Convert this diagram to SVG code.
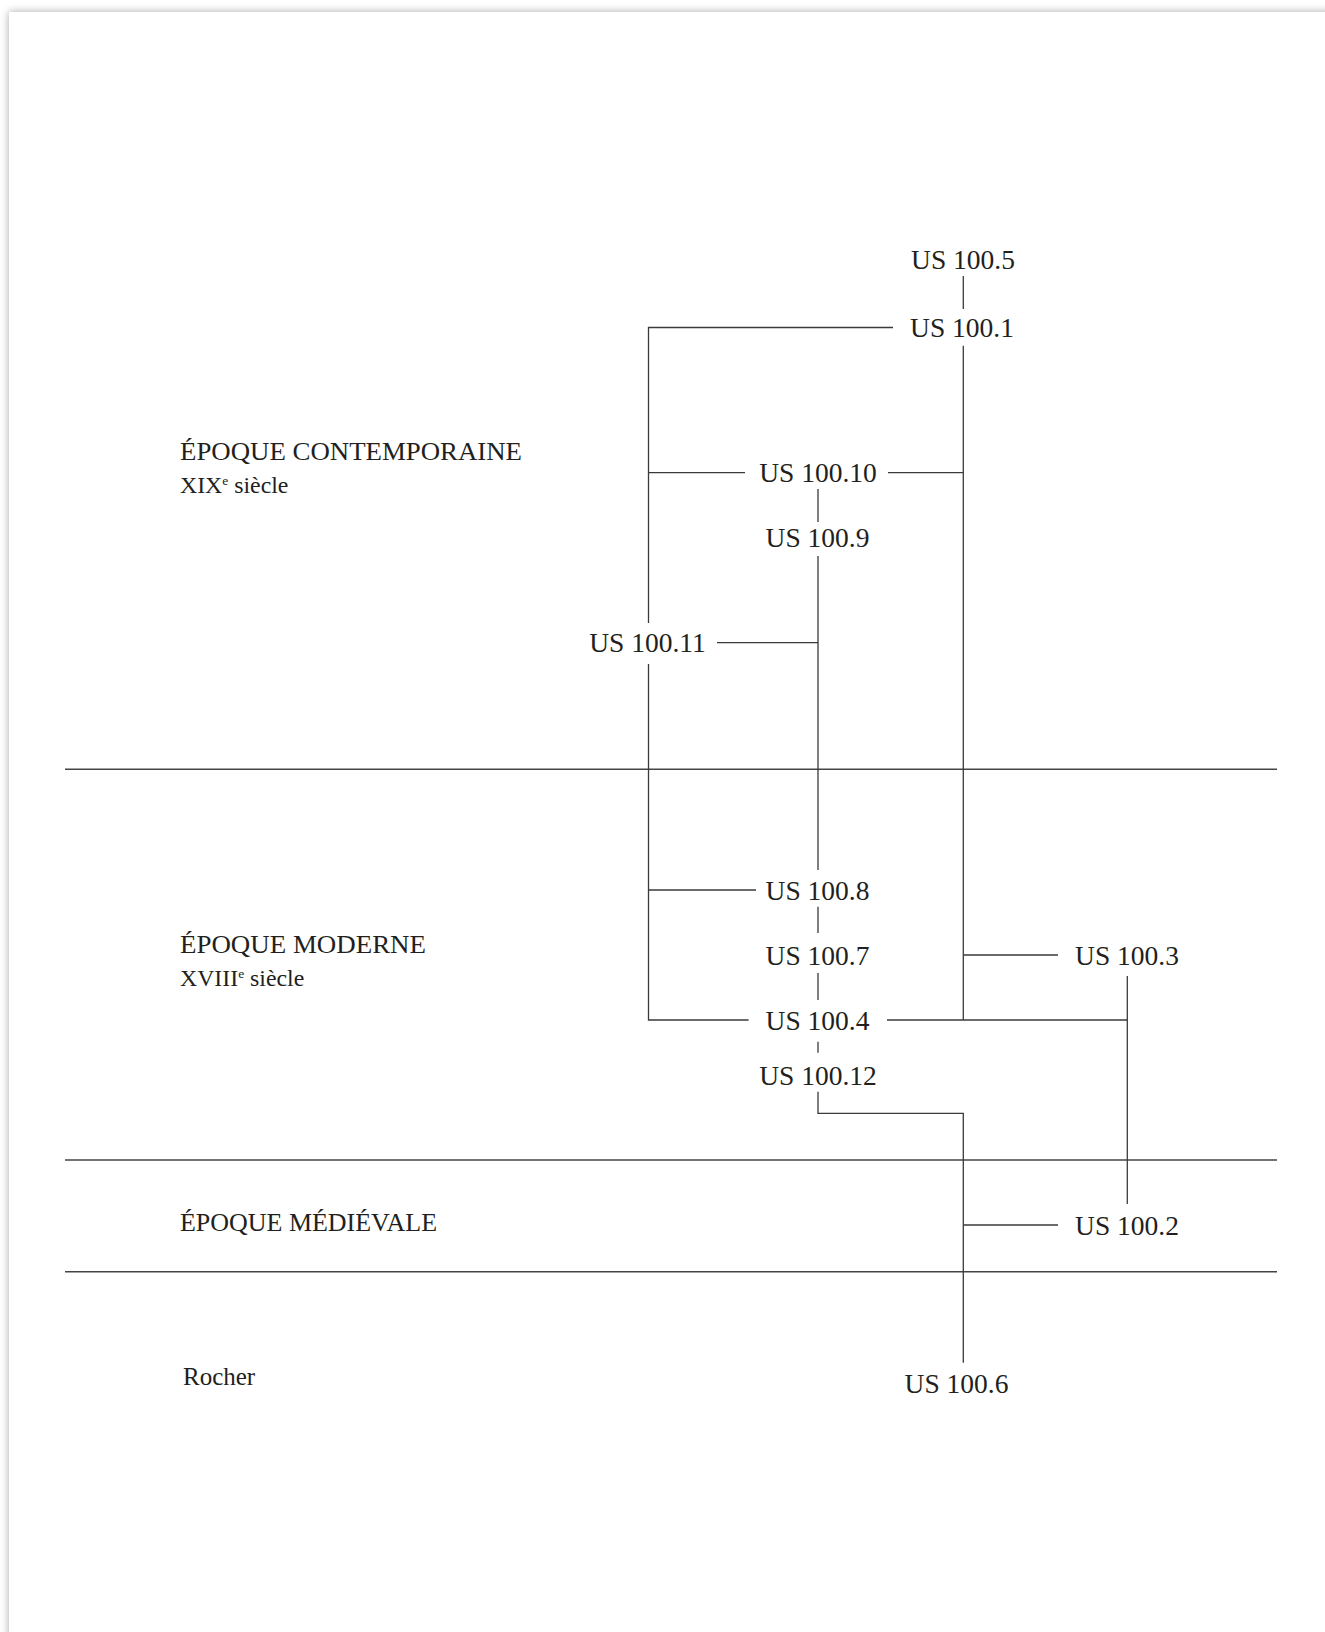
<svg xmlns="http://www.w3.org/2000/svg" width="1325" height="1632" viewBox="0 0 1325 1632">
  <defs>
    <filter id="shadow" x="-5%" y="-5%" width="110%" height="110%">
      <feGaussianBlur in="SourceAlpha" stdDeviation="4"/>
      <feOffset dx="0" dy="0" result="b"/>
      <feComponentTransfer><feFuncA type="linear" slope="0.35"/></feComponentTransfer>
      <feMerge><feMergeNode/><feMergeNode in="SourceGraphic"/></feMerge>
    </filter>
    <style>
      .us { font-family: "Liberation Serif", "Times New Roman", serif; font-size: 27.5px; fill: #231f20; text-anchor: middle; }
      .period { font-family: "Liberation Serif", "Times New Roman", serif; font-size: 25px; fill: #231f20; }
      .sub { font-family: "Liberation Serif", "Times New Roman", serif; font-size: 23.8px; fill: #231f20; }
      .conn { stroke: #3a3a3a; stroke-width: 1.3; fill: none; }
      .divider { stroke: #444; stroke-width: 1.4; fill: none; }
    </style>
  </defs>

  <rect x="0" y="0" width="1325" height="1632" fill="#ffffff"/>
  <rect x="9" y="12" width="1420" height="1700" fill="#ffffff" filter="url(#shadow)"/>

  <g id="dividers">
    <line class="divider" x1="65" y1="769.3" x2="1277" y2="769.3"/>
    <line class="divider" x1="65" y1="1160" x2="1277" y2="1160"/>
    <line class="divider" x1="65" y1="1271.7" x2="1277" y2="1271.7"/>
  </g>

  <g id="period-labels">
    <g id="period-contemporaine">
      <text class="period" x="180" y="460" textLength="342" lengthAdjust="spacingAndGlyphs">ÉPOQUE CONTEMPORAINE</text>
      <text class="sub" x="180" y="493">XIX<tspan font-size="13.5" dy="-8">e</tspan><tspan dy="8"> siècle</tspan></text>
    </g>
    <g id="period-moderne">
      <text class="period" x="180" y="953" textLength="246" lengthAdjust="spacingAndGlyphs">ÉPOQUE MODERNE</text>
      <text class="sub" x="180" y="986" font-size="24.8">XVIII<tspan font-size="13.5" dy="-8">e</tspan><tspan dy="8"> siècle</tspan></text>
    </g>
    <g id="period-medievale">
      <text class="period" x="180" y="1231" textLength="257" lengthAdjust="spacingAndGlyphs">ÉPOQUE MÉDIÉVALE</text>
    </g>
    <g id="period-rocher">
      <text class="period" x="183" y="1385" font-size="24.5">Rocher</text>
    </g>
  </g>

  <g id="connectors">
    <line class="conn" x1="963.3" y1="276" x2="963.3" y2="309"/>
    <polyline class="conn" points="893,327.5 648.5,327.5 648.5,623"/>
    <polyline class="conn" points="648.5,664 648.5,1020 748.6,1020"/>
    <line class="conn" x1="648.5" y1="472.7" x2="745" y2="472.7"/>
    <line class="conn" x1="648.5" y1="890" x2="756" y2="890"/>
    <line class="conn" x1="963.3" y1="345.7" x2="963.3" y2="1020"/>
    <line class="conn" x1="888" y1="472.7" x2="963.3" y2="472.7"/>
    <line class="conn" x1="963.3" y1="955" x2="1058" y2="955"/>
    <line class="conn" x1="887" y1="1020" x2="1127.3" y2="1020"/>
    <line class="conn" x1="1127.3" y1="976" x2="1127.3" y2="1204"/>
    <line class="conn" x1="818" y1="489" x2="818" y2="522"/>
    <line class="conn" x1="818" y1="556" x2="818" y2="870"/>
    <line class="conn" x1="717" y1="642.7" x2="818" y2="642.7"/>
    <line class="conn" x1="818" y1="906.7" x2="818" y2="933"/>
    <line class="conn" x1="818" y1="973" x2="818" y2="1000"/>
    <line class="conn" x1="818" y1="1041.7" x2="818" y2="1052.7"/>
    <polyline class="conn" points="818,1091.7 818,1113.3 963.3,1113.3 963.3,1362.7"/>
    <line class="conn" x1="963.3" y1="1225" x2="1058" y2="1225"/>
  </g>

  <g id="nodes">
    <g id="us-100-5"><text class="us" x="963" y="269">US 100.5</text></g>
    <g id="us-100-1"><text class="us" x="962" y="337">US 100.1</text></g>
    <g id="us-100-10"><text class="us" x="818" y="482">US 100.10</text></g>
    <g id="us-100-9"><text class="us" x="817.5" y="547">US 100.9</text></g>
    <g id="us-100-11"><text class="us" x="647.5" y="652">US 100.11</text></g>
    <g id="us-100-8"><text class="us" x="817.5" y="900">US 100.8</text></g>
    <g id="us-100-7"><text class="us" x="817.5" y="965">US 100.7</text></g>
    <g id="us-100-3"><text class="us" x="1127" y="965">US 100.3</text></g>
    <g id="us-100-4"><text class="us" x="817.5" y="1030">US 100.4</text></g>
    <g id="us-100-12"><text class="us" x="818" y="1085">US 100.12</text></g>
    <g id="us-100-2"><text class="us" x="1127" y="1235">US 100.2</text></g>
    <g id="us-100-6"><text class="us" x="956.5" y="1393">US 100.6</text></g>
  </g>
</svg>
